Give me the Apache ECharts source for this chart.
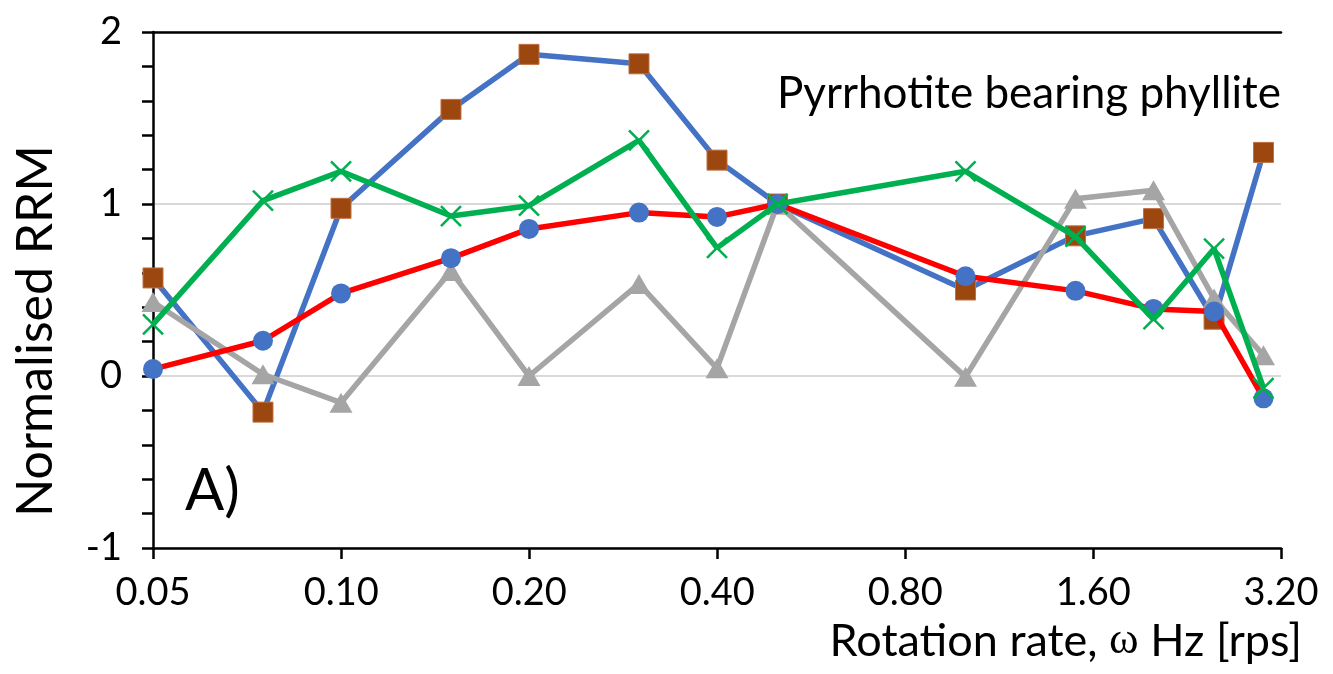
<!DOCTYPE html>
<html>
<head>
<meta charset="utf-8">
<script src="https://cdn.jsdelivr.net/npm/echarts@6/dist/echarts.min.js"></script>
<style>
html,body{margin:0;padding:0;background:#fff;}
#chart{width:1333px;height:674px;}
</style>
</head>
<body>
<div id="chart"></div>
<script>
// Rotation rate (Hz)
const rates = [0.05, 0.075, 0.1, 0.15, 0.2, 0.3, 0.4, 0.5, 1.0, 1.5, 2.0, 2.5, 3.0];
// Normalised RRM series
const squareSeries   = [0.57, -0.21, 0.975, 1.55, 1.87, 1.815, 1.255, 1.0, 0.50, 0.815, 0.915, 0.33, 1.30];
const circleSeries   = [0.04, 0.205, 0.48, 0.685, 0.855, 0.95, 0.925, 1.0, 0.58, 0.495, 0.39, 0.375, -0.13];
const triangleSeries = [0.43, 0.01, -0.155, 0.61, 0.0, 0.535, 0.045, 1.0, -0.005, 1.03, 1.08, 0.45, 0.12];
const crossSeries    = [0.30, 1.02, 1.19, 0.93, 0.99, 1.37, 0.745, 1.0, 1.19, 0.81, 0.33, 0.74, -0.07];
// Axis tick labels
const xTickLabels = ['0.05', '0.10', '0.20', '0.40', '0.80', '1.60', '3.20'];
const yTickLabels = ['-1', '0', '1', '2'];

const FONT = 'Lato';
const pair = (ys) => rates.map((x, i) => [x, ys[i]]);

const chart = echarts.init(document.getElementById('chart'), null, {renderer: 'canvas'});
chart.setOption({
  animation: false,
  backgroundColor: '#ffffff',
  title: {
    text: 'Pyrrhotite bearing phyllite',
    right: 52,
    top: 72,
    padding: 0,
    textStyle: {fontFamily: FONT, fontSize: 44, fontWeight: 'normal', color: '#000'}
  },
  grid: {left: 153, top: 32, right: 52, bottom: 126, containLabel: false},
  xAxis: [{
    type: 'log',
    logBase: 2,
    min: 0.05,
    max: 3.2,
    interval: 1,
    axisLine: {show: true, onZero: false, lineStyle: {color: '#000', width: 2.5}},
    axisTick: {show: true, length: 11, inside: false, lineStyle: {color: '#000', width: 2.5}},
    axisLabel: {
      margin: 26,
      fontFamily: FONT, fontSize: 38, color: '#000',
      formatter: function (v) {
        const k = Math.round(Math.log2(v / 0.05));
        return xTickLabels[k] !== undefined ? xTickLabels[k] : '';
      }
    },
    splitLine: {show: false},
    minorTick: {show: false},
    name: 'Rotation rate, {w|ω} Hz [rps]',
    nameLocation: 'end',
    nameGap: 21,
    nameTextStyle: {
      fontFamily: FONT, fontSize: 45, color: '#000',
      align: 'right', verticalAlign: 'top',
      padding: [71, 0, 0, 0],
      rich: {w: {fontFamily: 'Liberation Serif', fontSize: 45, color: '#000'}}
    }
  }, {
    type: 'value',
    position: 'top',
    min: 0, max: 1,
    axisLine: {show: true, onZero: false, lineStyle: {color: '#000', width: 2.5}},
    axisTick: {show: false},
    axisLabel: {show: false},
    splitLine: {show: false}
  }],
  yAxis: {
    type: 'value',
    min: -1,
    max: 2,
    interval: 1,
    axisLine: {show: true, onZero: false, lineStyle: {color: '#000', width: 2.5}},
    axisTick: {show: true, length: 11, inside: false, lineStyle: {color: '#000', width: 2.5}},
    minorTick: {show: true, splitNumber: 5, length: 11, lineStyle: {color: '#000', width: 2.5}},
    axisLabel: {
      margin: 31,
      fontFamily: FONT, fontSize: 38, color: '#000',
      formatter: function (v) {
        const k = Math.round(v) + 1;
        return yTickLabels[k] !== undefined ? yTickLabels[k] : '';
      }
    },
    splitLine: {show: true, lineStyle: {color: '#D9D9D9', width: 2}},
    name: 'Normalised RRM',
    nameLocation: 'middle',
    nameRotate: 90,
    nameGap: 92,
    nameTextStyle: {fontFamily: FONT, fontSize: 50, color: '#000', padding: [0, 82, 0, 0]}
  },
  graphic: [{
    type: 'text',
    left: 185,
    top: 462,
    style: {text: 'A)', fontFamily: FONT, fontSize: 58, fill: '#000'}
  }],
  series: [{
    name: 'squares',
    type: 'line',
    data: pair(squareSeries),
    symbol: 'rect',
    symbolSize: 20,
    lineStyle: {color: '#4472C4', width: 5.5},
    itemStyle: {color: '#9C4710', borderColor: '#C07040', borderWidth: 1},
    z: 2
  }, {
    name: 'triangles',
    type: 'line',
    data: pair(triangleSeries),
    symbol: 'triangle',
    symbolSize: [23, 20],
    lineStyle: {color: '#A5A5A5', width: 5.5},
    itemStyle: {color: '#A5A5A5', borderWidth: 0},
    z: 3
  }, {
    name: 'circles',
    type: 'line',
    data: pair(circleSeries),
    symbol: 'circle',
    symbolSize: 20,
    lineStyle: {color: '#FF0000', width: 5.5},
    itemStyle: {color: '#4472C4', borderWidth: 0},
    z: 4
  }, {
    name: 'crosses',
    type: 'line',
    data: pair(crossSeries),
    symbol: 'path://M0,0L10,10M10,0L0,10',
    symbolSize: 20,
    lineStyle: {color: '#00B050', width: 5.5},
    itemStyle: {color: 'rgba(0,0,0,0)', borderColor: '#00B050', borderWidth: 2.5},
    z: 5
  }]
});
</script>
</body>
</html>
